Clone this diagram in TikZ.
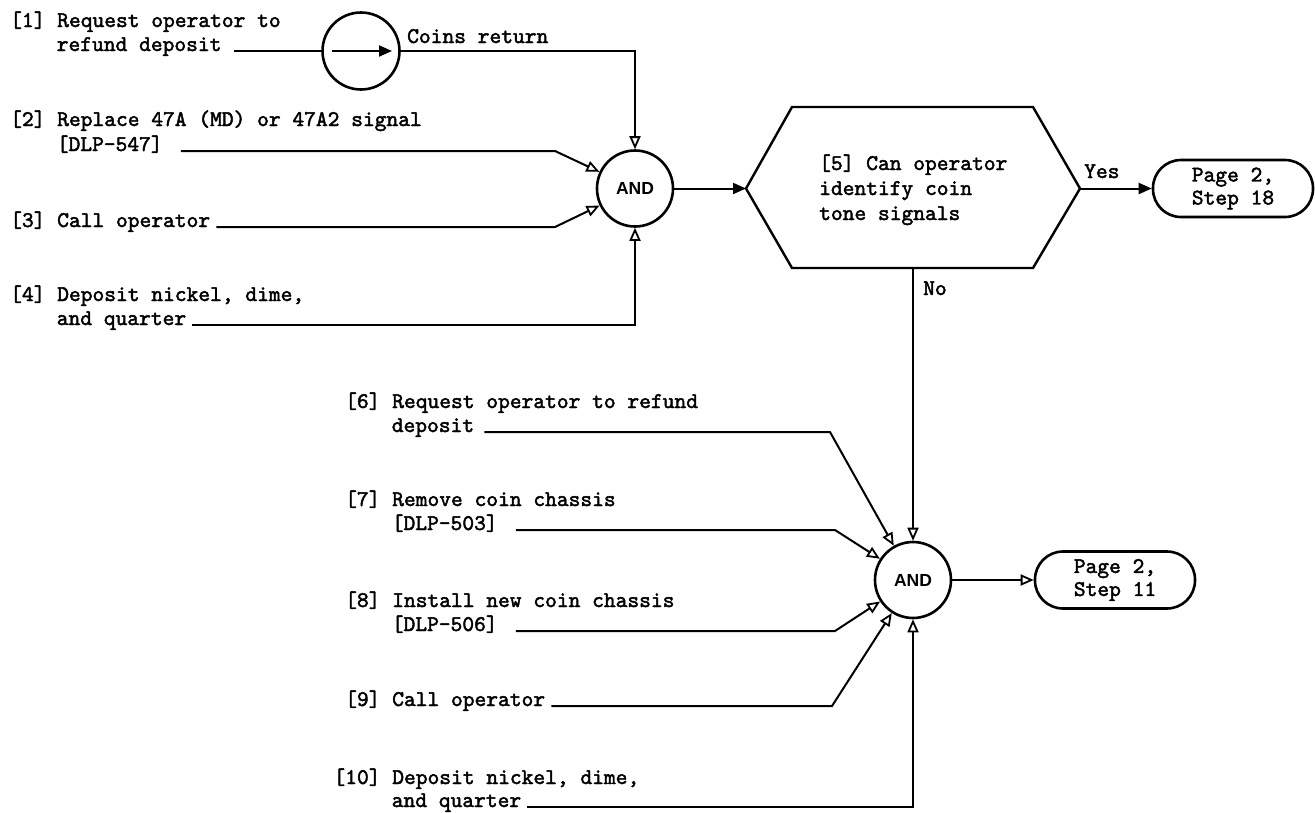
\documentclass[tikz,border=0pt]{standalone}
\usepackage{fontspec}
\usetikzlibrary{arrows.meta,calc}
\newfontfamily\tfont[FakeBold=2]{lmmono10-regular.otf}
\newfontfamily\andfont{Liberation Sans}
\begin{document}
\begin{tikzpicture}[x=1pt,y=-1pt,
  txt/.style={font=\tfont\fontsize{22.4}{24}\selectfont, anchor=base west, inner sep=0pt},
  ln/.style={line width=2pt},
  oarr/.style={-{Triangle[open,length=13pt,width=11pt,line width=1.8pt]}},
  farr/.style={-{Triangle[length=13pt,width=11pt]}},
  gate/.style={circle, draw, line width=2.6pt, minimum size=76pt, inner sep=0pt,
    font=\andfont\bfseries\fontsize{17.5}{17.5}\selectfont},
  term/.style={draw, line width=2.6pt, rounded corners=28pt, minimum width=160pt,
    minimum height=57pt, inner sep=0pt, align=left,
    font=\tfont\fontsize{22.4}{23}\selectfont}
]
\useasboundingbox (0,0) rectangle (1315,812);

% ---- top part ----
\node[txt] (t1a) at (10,27) {[1] Request operator to};
\node[txt] (t1b) at (56.6,51) {refund deposit};
\node[circle, draw, line width=2.6pt, minimum size=77pt, inner sep=0pt] (valve) at (361,51) {};
\coordinate (vin) at ($(valve.center)+(-29,0)$);
\coordinate (vout) at ($(valve.center)+(31,0)$);
\draw[ln, farr] (vin) -- (vout);
\node[txt] (coins) at (407,43) {Coins return};
\draw[ln] ($(t1b.base east)+(12,0)$) -- (valve.west);

\node[gate] (and1) at (635,188.5) {AND};
\draw[ln, oarr] (valve.east) -| (and1.north);

\node[txt] (t2a) at (10,126) {[2] Replace 47A (MD) or 47A2 signal};
\node[txt] (t2b) at (56.6,151) {[DLP-547]};
\coordinate (b2) at (555,151);
\draw[ln, oarr] ($(t2b.base east)+(18,0)$) -- (b2) -- (and1);

\node[txt] (t3) at (10,227) {[3] Call operator};
\coordinate (b3) at (555,227);
\draw[ln, oarr] ($(t3.base east)+(6,0)$) -- (b3) -- (and1);

\node[txt] (t4a) at (10,301) {[4] Deposit nickel, dime,};
\node[txt] (t4b) at (56.6,325) {and quarter};
\draw[ln, oarr] ($(t4b.base east)+(6,0)$) -| (and1.south);

% ---- decision ----
\coordinate (hexL) at (746,188.5);
\coordinate (hexR) at (1080,188.5);
\coordinate (hexB) at (913,268);
\draw[line width=2.4pt, line join=miter] (hexL) -- (792,107) -- (1033,107) -- (hexR)
  -- (1033,268) -- (792,268) -- cycle;
\node[txt] (q5a) at (819,170) {[5] Can operator};
\node[txt] (q5b) at (819,195) {identify coin};
\node[txt] (q5c) at (819,220) {tone signals};
\draw[ln, farr] (and1.east) -- (hexL);

\node[term] (p18) at (1233,188.5) {Page 2,\\Step 18};
\node[txt] (yes) at (1084,178) {Yes};
\draw[ln, farr] (hexR) -- (p18.west);

\node[txt] (no) at (923,295) {No};

% ---- bottom part ----
\node[gate] (and2) at (913,580) {AND};
\draw[ln, oarr] (hexB) -- (and2.north);

\node[term] (p11) at (1115,580) {Page 2,\\Step 11};
\draw[ln, oarr] (and2.east) -- (p11.west);

\node[txt] (t6a) at (345,408) {[6] Request operator to refund};
\node[txt] (t6b) at (391.6,432) {deposit};
\coordinate (b6) at (830,432);
\draw[ln, oarr] ($(t6b.base east)+(10,0)$) -- (b6) -- (and2);

\node[txt] (t7a) at (345,506) {[7] Remove coin chassis};
\node[txt] (t7b) at (391.6,530) {[DLP-503]};
\coordinate (b7) at (835,530);
\draw[ln, oarr] ($(t7b.base east)+(18,0)$) -- (b7) -- (and2);

\node[txt] (t8a) at (345,607) {[8] Install new coin chassis};
\node[txt] (t8b) at (391.6,631) {[DLP-506]};
\coordinate (b8) at (835,631);
\draw[ln, oarr] ($(t8b.base east)+(18,0)$) -- (b8) -- (and2);

\node[txt] (t9) at (345,706) {[9] Call operator};
\coordinate (b9) at (832,706);
\draw[ln, oarr] ($(t9.base east)+(6,0)$) -- (b9) -- (and2);

\node[txt] (t10a) at (333.3,784) {[10] Deposit nickel, dime,};
\node[txt] (t10b) at (391.6,807) {and quarter};
\draw[ln, oarr] ($(t10b.base east)+(6,0)$) -| (and2.south);
\end{tikzpicture}
\end{document}
